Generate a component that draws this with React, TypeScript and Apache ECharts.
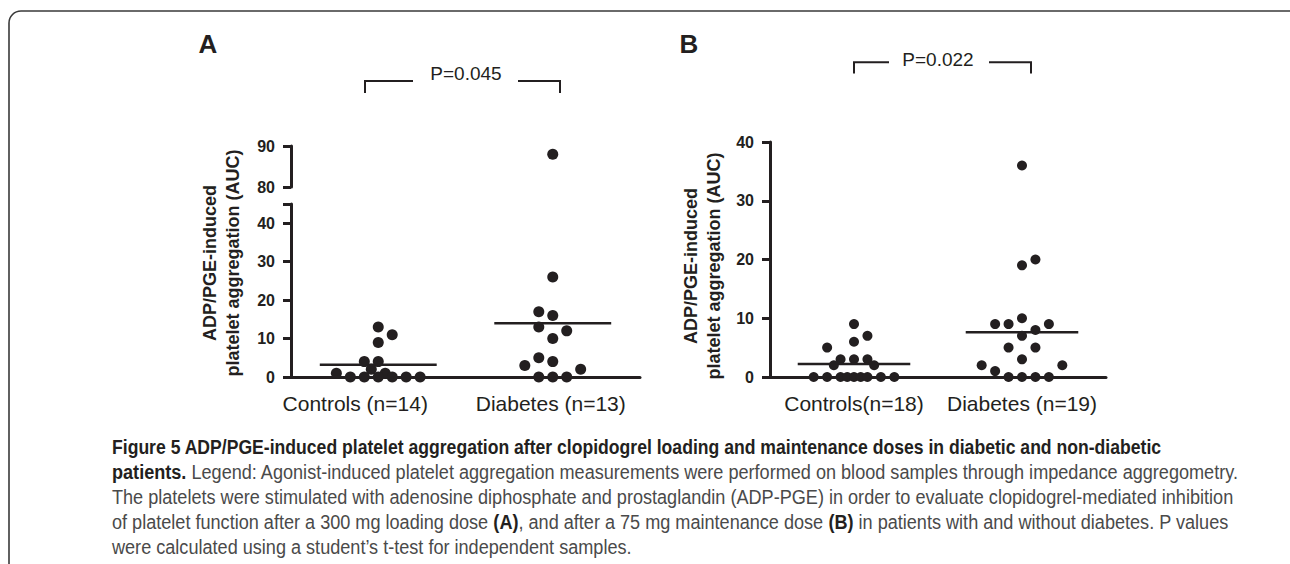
import React, { useEffect, useRef } from 'react';
import * as echarts from 'echarts';

// ---- data ----
const categoriesA = ['Controls (n=14)', 'Diabetes (n=13)'];
const categoriesB = ['Controls(n=18)', 'Diabetes (n=19)'];

// Panel A (300 mg loading dose)
const controlsA = [13, 11, 9, 4, 4, 2, 1, 1, 0, 0, 0, 0, 0, 0];
const controlsASlots = [0, 1, 0, -1, 0, -0.5, -3, 0.5, -2, -1, 0, 1, 2, 3];
const diabetesA = [88, 26, 17, 16, 13, 12, 10, 5, 4, 3, 2, 0, 0, 0];
const diabetesASlots = [0, 0, -1, 0, -1, 1, 0, -1, 0, -2, 2, -1, 0, 1];

// Panel B (75 mg maintenance dose)
const controlsB = [9, 7, 6, 5, 3, 3, 3, 2, 2, 0, 0, 0, 0, 0, 0, 0, 0, 0];
const controlsBSlots = [0, 1, 0, -2, -1, 0, 1, -1.5, 1.5, -3, -2, -1, -0.5, 0, 0.5, 1, 2, 3];
const diabetesB = [36, 20, 19, 10, 9, 9, 9, 8, 7, 5, 5, 3, 2, 2, 1, 0, 0, 0, 0];
const diabetesBSlots = [0, 1, 0, 0, -2, -1, 2, 1, 0, -1, 1, 0, -3, 3, -2, -1, 0, 1, 2];

// axis ranges
const yRangeALower = [0, 45];
const yRangeAUpper = [80, 90];
const yRangeB = [0, 40];
const yInterval = 10;

const pValueA = 'P=0.045';
const pValueB = 'P=0.022';
const yName = 'ADP/PGE-induced\nplatelet aggregation (AUC)';

const captionTitle =
  'Figure 5 ADP/PGE-induced platelet aggregation after clopidogrel loading and maintenance doses in diabetic and non-diabetic';
const captionBody = [
  '{t|patients.}{r| Legend: Agonist-induced platelet aggregation measurements were performed on blood samples through impedance aggregometry.}',
  '{r|The platelets were stimulated with adenosine diphosphate and prostaglandin (ADP-PGE) in order to evaluate clopidogrel-mediated inhibition}',
  '{r|of platelet function after a 300 mg loading dose }{t|(A)}{r|, and after a 75 mg maintenance dose }{t|(B)}{r| in patients with and without diabetes. P values}',
  '{r|were calculated using a student\u2019s t-test for independent samples.}',
];

// ---- styling constants ----
const INK = '#231f20';
const GREY = '#4a4a4a';
const SLOT = 0.08; // horizontal spacing of stacked dots (value units)
const HALF = 0.335; // half width of mean line (value units)
const AX_FONT = '"Liberation Sans", Arial, Helvetica, sans-serif';
const CAP_FONT = '"Liberation Sans", Arial, sans-serif';

const mean = (a: number[]) => a.reduce((s, v) => s + v, 0) / a.length;
const pts = (vals: number[], slots: number[], center: number, keep: (v: number) => boolean) =>
  vals.map((v, i) => [center + slots[i] * SLOT, v]).filter((p) => keep(p[1]));

export default function App() {
  const ref = useRef<HTMLDivElement>(null);

  useEffect(() => {
    document.body.style.margin = '0';
    if (!ref.current) return;
    const chart = echarts.init(ref.current, undefined, { renderer: 'svg' });

    const axisLineStyle = { color: INK, width: 3 };
    const yLabel = {
      color: INK,
      fontSize: 16,
      fontWeight: 'bold' as const,
      fontFamily: AX_FONT,
      margin: 16,
    };
    const xLabel = {
      color: INK,
      fontSize: 21,
      fontFamily: AX_FONT,
      margin: 16,
      interval: 0,
    };
    const nameAxis = (gridIndex: number, gap: number) => ({
      gridIndex,
      type: 'value',
      min: 0,
      max: 1,
      axisLine: { show: false },
      axisTick: { show: false },
      axisLabel: { show: false },
      splitLine: { show: false },
      name: yName,
      nameLocation: 'middle',
      nameGap: gap,
      nameTextStyle: {
        color: INK,
        fontSize: 18,
        fontWeight: 'bold',
        fontFamily: AX_FONT,
        lineHeight: 23,
      },
    });
    const valueY = (gridIndex: number, range: number[], labelExtra: any = {}) => ({
      gridIndex,
      type: 'value',
      min: range[0],
      max: range[1],
      interval: yInterval,
      axisLine: { show: true, onZero: false, lineStyle: axisLineStyle },
      axisTick: { show: true, length: 8, lineStyle: axisLineStyle },
      axisLabel: { ...yLabel, ...labelExtra },
      splitLine: { show: false },
    });
    const scatter = (data: number[][], xi: number, yi: number, size: number) => ({
      type: 'scatter',
      xAxisIndex: xi,
      yAxisIndex: yi,
      data,
      symbolSize: size,
      clip: false,
      itemStyle: { color: INK, opacity: 1 },
      z: 3,
    });
    const meanLine = (vals: number[], center: number, xi: number, yi: number) => {
      const m = mean(vals);
      return {
        type: 'line',
        xAxisIndex: xi,
        yAxisIndex: yi,
        data: [
          [center - HALF, m],
          [center + HALF, m],
        ],
        symbol: 'none',
        lineStyle: { color: INK, width: 2.5 },
        z: 2,
      };
    };

    const lowA = (v: number) => v <= yRangeALower[1];
    const highA = (v: number) => v >= yRangeAUpper[0];
    const all = () => true;

    chart.setOption({
      animation: false,
      backgroundColor: '#ffffff',
      grid: [
        { left: 291, top: 204, width: 349, height: 173 },
        { left: 291, top: 146, width: 349, height: 41 },
        { left: 291, top: 146, width: 349, height: 234 },
        { left: 770, top: 142, width: 336, height: 235 },
        { left: 770, top: 150, width: 336, height: 232 },
      ],
      xAxis: [
        {
          gridIndex: 0,
          type: 'category',
          data: categoriesA,
          boundaryGap: true,
          axisLine: { onZero: false, lineStyle: axisLineStyle },
          axisTick: { alignWithLabel: true, length: 8, lineStyle: axisLineStyle },
          axisLabel: {
            ...xLabel,
            formatter: (v: string, i: number) => (i === 0 ? `{s|${v}}` : `{n|${v}}`),
            rich: {
              s: { fontSize: 21, fontFamily: AX_FONT, color: INK, padding: [0, 46, 0, 0] },
              n: { fontSize: 21, fontFamily: AX_FONT, color: INK, padding: [0, 4, 0, 0] },
            },
          },
          splitLine: { show: false },
        },
        { gridIndex: 0, type: 'value', min: -0.5, max: 1.5, show: false },
        { gridIndex: 1, type: 'value', min: -0.5, max: 1.5, show: false },
        { gridIndex: 2, type: 'value', show: false },
        {
          gridIndex: 3,
          type: 'category',
          data: categoriesB,
          boundaryGap: true,
          axisLine: { onZero: false, lineStyle: axisLineStyle },
          axisTick: { alignWithLabel: true, length: 8, lineStyle: axisLineStyle },
          axisLabel: xLabel,
          splitLine: { show: false },
        },
        { gridIndex: 3, type: 'value', min: -0.5, max: 1.5, show: false },
        { gridIndex: 4, type: 'value', show: false },
      ],
      yAxis: [
        valueY(0, yRangeALower, { formatter: (v: number) => (v % yInterval === 0 ? String(v) : '') }),
        valueY(1, yRangeAUpper),
        nameAxis(2, 47),
        valueY(3, yRangeB),
        nameAxis(4, 45),
      ],
      series: [
        scatter(pts(controlsA, controlsASlots, 0, lowA), 1, 0, 11),
        scatter(pts(diabetesA, diabetesASlots, 1, lowA), 1, 0, 11),
        scatter(pts(diabetesA, diabetesASlots, 1, highA), 2, 1, 11),
        meanLine(controlsA, 0, 1, 0),
        meanLine(diabetesA, 1, 1, 0),
        scatter(pts(controlsB, controlsBSlots, 0, all), 5, 3, 10),
        scatter(pts(diabetesB, diabetesBSlots, 1, all), 5, 3, 10),
        meanLine(controlsB, 0, 5, 3),
        meanLine(diabetesB, 1, 5, 3),
      ],
      graphic: [
        {
          type: 'rect',
          shape: { x: 9, y: 11, width: 1400, height: 700, r: 12 },
          style: { fill: 'none', stroke: '#3a3a3a', lineWidth: 1.6 },
          silent: true,
        },
        {
          type: 'text',
          x: 208,
          y: 44,
          style: { text: 'A', fill: INK, fontSize: 26, fontWeight: 'bold', fontFamily: AX_FONT, align: 'center', verticalAlign: 'middle' },
        },
        {
          type: 'text',
          x: 689,
          y: 44,
          style: { text: 'B', fill: INK, fontSize: 26, fontWeight: 'bold', fontFamily: AX_FONT, align: 'center', verticalAlign: 'middle' },
        },
        {
          type: 'text',
          x: 466,
          y: 73,
          style: { text: pValueA, fill: INK, fontSize: 19, fontFamily: AX_FONT, align: 'center', verticalAlign: 'middle' },
        },
        {
          type: 'text',
          x: 938,
          y: 59.5,
          style: { text: pValueB, fill: INK, fontSize: 19, fontFamily: AX_FONT, align: 'center', verticalAlign: 'middle' },
        },
        {
          type: 'polyline',
          shape: { points: [[365, 93], [365, 81], [413, 81]] },
          style: { stroke: INK, lineWidth: 2, fill: 'none' },
        },
        {
          type: 'polyline',
          shape: { points: [[518, 81], [560, 81], [560, 93]] },
          style: { stroke: INK, lineWidth: 2, fill: 'none' },
        },
        {
          type: 'polyline',
          shape: { points: [[854, 73.5], [854, 62.3], [889, 62.3]] },
          style: { stroke: INK, lineWidth: 2, fill: 'none' },
        },
        {
          type: 'polyline',
          shape: { points: [[989, 62.3], [1031, 62.3], [1031, 73.5]] },
          style: { stroke: INK, lineWidth: 2, fill: 'none' },
        },
        {
          type: 'text',
          x: 112,
          y: 435,
          scaleX: 0.88,
          style: {
            text: captionTitle,
            fontSize: 20,
            fontWeight: 'bold',
            fontFamily: CAP_FONT,
            lineHeight: 25,
            fill: INK,
          },
        },
        {
          type: 'text',
          x: 112,
          y: 460,
          scaleX: 0.905,
          style: {
            text: captionBody.join('\n'),
            fontSize: 20,
            fontFamily: CAP_FONT,
            lineHeight: 25,
            fill: GREY,
            rich: {
              t: { fontSize: 20, fontFamily: CAP_FONT, fontWeight: 'bold', fill: INK, lineHeight: 25 },
              r: { fontSize: 20, fontFamily: CAP_FONT, fill: GREY, lineHeight: 25 },
            },
          },
        },
      ],
    });

    return () => chart.dispose();
  }, []);

  return <div ref={ref} style={{ width: 1290, height: 564 }} />;
}
